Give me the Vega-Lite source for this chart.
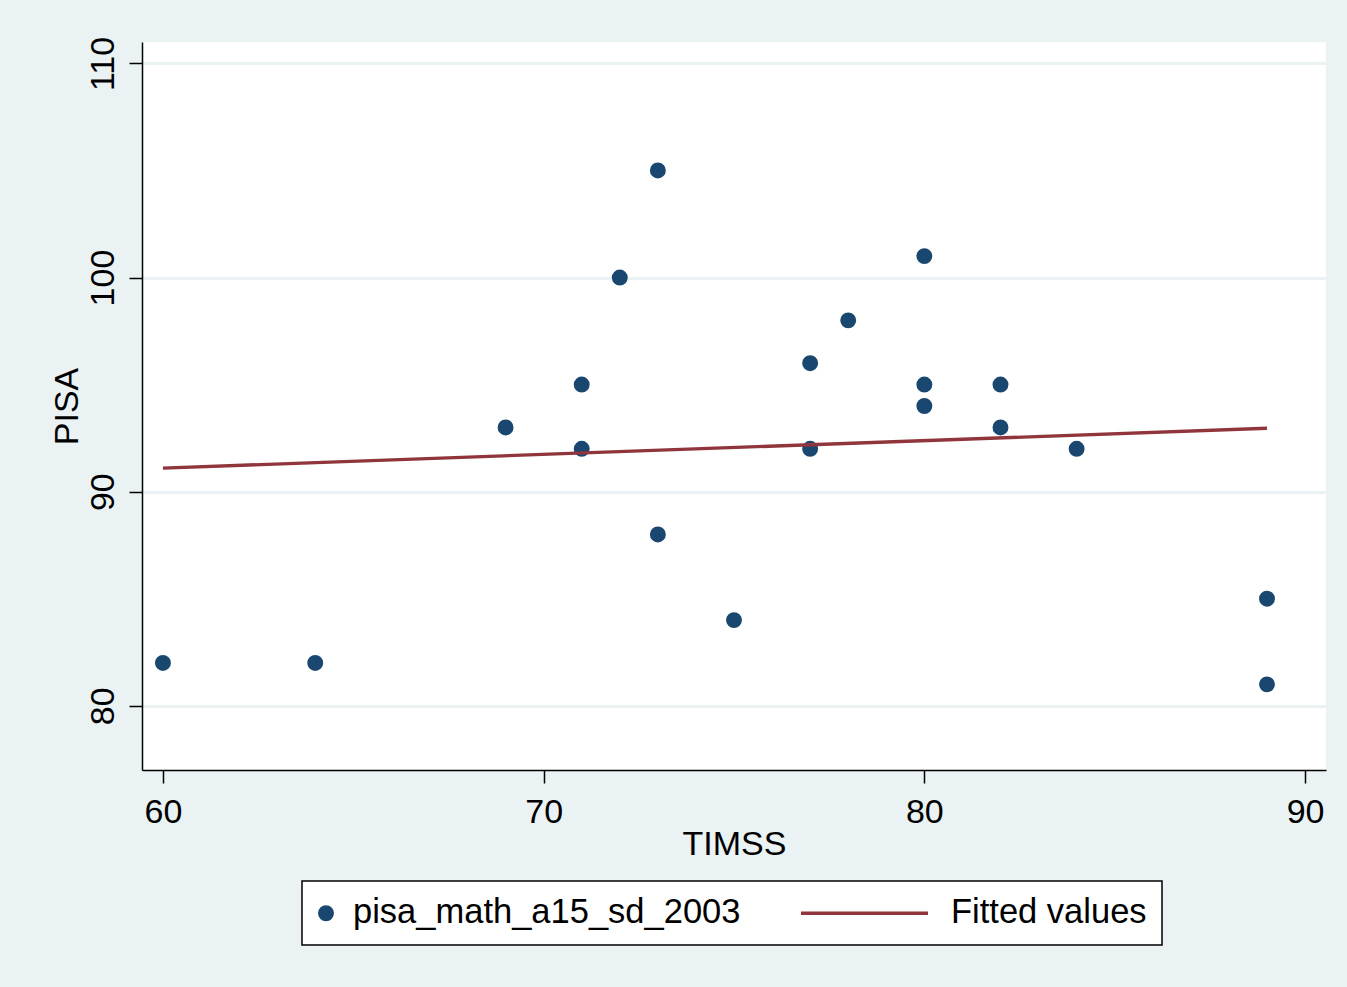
{
  "$schema": "https://vega.github.io/schema/vega-lite/v6.json",
  "width": 1184,
  "height": 728,
  "autosize": {"type": "none"},
  "padding": {"left": 142, "top": 42, "right": 21, "bottom": 217},
  "background": "#eaf2f3",
  "config": {
    "view": {"fill": "white", "stroke": null},
    "font": "Liberation Sans",
    "axis": {
      "domainColor": "black",
      "domainWidth": 1.5,
      "tickColor": "black",
      "tickWidth": 1.5,
      "tickSize": 13,
      "labelFontSize": 34,
      "labelColor": "black",
      "labelFont": "Liberation Sans",
      "titleFontSize": 34,
      "titleFontWeight": "normal",
      "titleColor": "black",
      "titleFont": "Liberation Sans",
      "gridColor": "#eaf2f3",
      "gridWidth": 3,
      "gridOpacity": 1
    }
  },
  "datasets": {
    "points": [
      {"TIMSS": 60, "PISA": 82, "series": "pisa_math_a15_sd_2003"},
      {"TIMSS": 64, "PISA": 82, "series": "pisa_math_a15_sd_2003"},
      {"TIMSS": 69, "PISA": 93, "series": "pisa_math_a15_sd_2003"},
      {"TIMSS": 71, "PISA": 95, "series": "pisa_math_a15_sd_2003"},
      {"TIMSS": 71, "PISA": 92, "series": "pisa_math_a15_sd_2003"},
      {"TIMSS": 72, "PISA": 100, "series": "pisa_math_a15_sd_2003"},
      {"TIMSS": 73, "PISA": 105, "series": "pisa_math_a15_sd_2003"},
      {"TIMSS": 73, "PISA": 88, "series": "pisa_math_a15_sd_2003"},
      {"TIMSS": 75, "PISA": 84, "series": "pisa_math_a15_sd_2003"},
      {"TIMSS": 77, "PISA": 96, "series": "pisa_math_a15_sd_2003"},
      {"TIMSS": 77, "PISA": 92, "series": "pisa_math_a15_sd_2003"},
      {"TIMSS": 78, "PISA": 98, "series": "pisa_math_a15_sd_2003"},
      {"TIMSS": 80, "PISA": 101, "series": "pisa_math_a15_sd_2003"},
      {"TIMSS": 80, "PISA": 95, "series": "pisa_math_a15_sd_2003"},
      {"TIMSS": 80, "PISA": 94, "series": "pisa_math_a15_sd_2003"},
      {"TIMSS": 82, "PISA": 95, "series": "pisa_math_a15_sd_2003"},
      {"TIMSS": 82, "PISA": 93, "series": "pisa_math_a15_sd_2003"},
      {"TIMSS": 84, "PISA": 92, "series": "pisa_math_a15_sd_2003"},
      {"TIMSS": 89, "PISA": 85, "series": "pisa_math_a15_sd_2003"},
      {"TIMSS": 89, "PISA": 81, "series": "pisa_math_a15_sd_2003"}
    ],
    "fit": [
      {"TIMSS": 60, "PISA": 91.1, "series": "Fitted values"},
      {"TIMSS": 89, "PISA": 92.96, "series": "Fitted values"}
    ]
  },
  "encoding": {
    "x": {
      "field": "TIMSS",
      "type": "quantitative",
      "scale": {"domain": [59.45, 90.55], "nice": false, "zero": false},
      "axis": {"values": [60, 70, 80, 90], "title": "TIMSS", "grid": false, "labelPadding": 12, "titlePadding": -2, "labelFlush": false}
    },
    "y": {
      "field": "PISA",
      "type": "quantitative",
      "scale": {"domain": [77, 111], "nice": false, "zero": false},
      "axis": {"values": [80, 90, 100, 110], "title": "PISA", "grid": true, "labelAngle": -90, "labelAlign": "center", "labelBaseline": "alphabetic", "labelPadding": 16, "titlePadding": 2, "labelFlush": false}
    },
    "color": {
      "field": "series",
      "type": "nominal",
      "scale": {"domain": ["pisa_math_a15_sd_2003", "Fitted values"], "range": ["#1a476f", "#90353b"]},
      "legend": {
        "title": null,
        "orient": "none",
        "legendX": 160,
        "legendY": 839,
        "direction": "horizontal",
        "fillColor": "white",
        "strokeColor": "black",
        "padding": 15,
        "columnPadding": 53,
        "labelFontSize": 34.5,
        "labelColor": "black",
        "labelFont": "Liberation Sans",
        "labelLimit": 1000,
        "labelBaseline": "middle",
        "symbolSize": 254,
        "encode": {
          "legend": {"update": {"strokeWidth": {"value": 1.5}}},
          "symbols": {
            "update": {
              "shape": {"signal": "datum.value === 'Fitted values' ? 'stroke' : 'circle'"},
              "size": {"signal": "datum.value === 'Fitted values' ? 16129 : 254"},
              "fill": {"signal": "datum.value === 'Fitted values' ? 'transparent' : '#1a476f'"},
              "stroke": {"signal": "datum.value === 'Fitted values' ? '#90353b' : 'transparent'"},
              "strokeWidth": {"signal": "datum.value === 'Fitted values' ? 3.5 : 0"},
              "opacity": {"value": 1},
              "x": {"signal": "datum.value === 'Fitted values' ? 63.5 : 9"},
              "y": {"value": 17}
            }
          },
          "labels": {
            "update": {
              "x": {"signal": "datum.value === 'Fitted values' ? 150 : 36"},
              "y": {"value": 17}
            }
          }
        }
      }
    }
  },
  "layer": [
    {
      "data": {"name": "points"},
      "mark": {"type": "point", "filled": true, "size": 254, "opacity": 1, "strokeWidth": 0}
    },
    {
      "data": {"name": "fit"},
      "mark": {"type": "line", "strokeWidth": 3.3}
    }
  ]
}
